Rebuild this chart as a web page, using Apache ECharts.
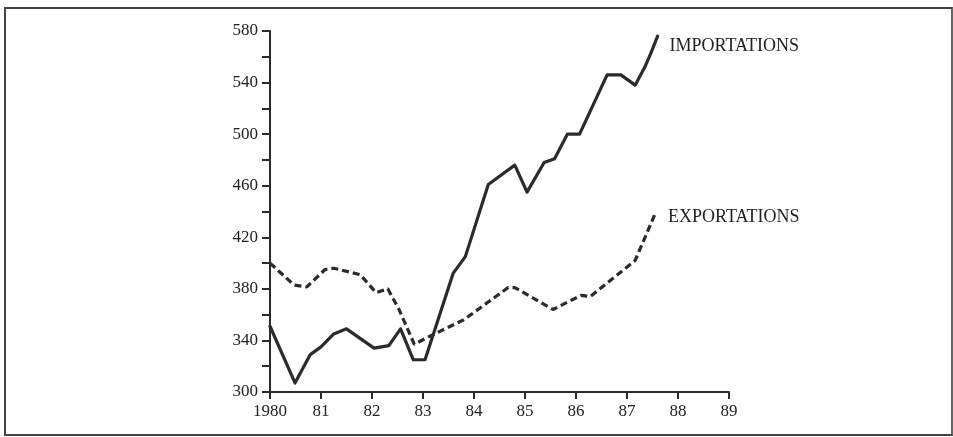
<!DOCTYPE html>
<html>
<head>
<meta charset="utf-8">
<script src="https://cdn.jsdelivr.net/npm/echarts@6/dist/echarts.min.js"></script>
<style>
  html, body { margin: 0; padding: 0; background: #fff; }
  #wrap { position: relative; width: 953px; height: 437px; }
  #chart { position: absolute; left: 0; top: 0; width: 953px; height: 437px; }
  #frame { position: absolute; left: 4px; top: 7px; width: 945px; height: 425px;
           border: 2px solid #444; border-right-color: #666; pointer-events: none; }
</style>
</head>
<body>
<div id="wrap">
  <div id="chart"></div>
  <div id="frame"></div>
</div>
<script>
// ---- data ----
const importYears  = [1980.0, 1980.49, 1980.79, 1981.0, 1981.25, 1981.5, 1982.04, 1982.33, 1982.56, 1982.81, 1983.04, 1983.59, 1983.83, 1984.28, 1984.8, 1985.04, 1985.375, 1985.58, 1985.83, 1986.07, 1986.61, 1986.88, 1987.16, 1987.35, 1987.47, 1987.6];
const importValues = [351, 307, 329, 335, 345, 349, 334, 336, 349, 325, 325, 392, 405, 461, 476, 455, 478, 481, 500, 500, 546, 546, 538, 552, 563, 576];

const exportYears  = [1980.0, 1980.47, 1980.72, 1981.08, 1981.25, 1981.77, 1982.08, 1982.31, 1982.53, 1982.83, 1983.12, 1983.8, 1984.67, 1984.8, 1985.55, 1986.1, 1986.28, 1987.16, 1987.57];
const exportValues = [400, 383, 381.5, 395, 396, 391, 377, 380, 364, 337, 343, 356, 381, 381, 364, 375, 374, 402, 440];

const seriesNames = ['IMPORTATIONS', 'EXPORTATIONS'];
const xTickValues = [1980, 1981, 1982, 1983, 1984, 1985, 1986, 1987, 1988, 1989];
const xTickLabels = ['1980', '81', '82', '83', '84', '85', '86', '87', '88', '89'];
const yMin = 300, yMax = 580, yStep = 40;

const pair = (xs, ys) => xs.map((x, i) => [x, ys[i]]);
const serif = '"Liberation Serif", "DejaVu Serif", serif';
const ink = '#2b2b2b';

const chart = echarts.init(document.getElementById('chart'), null, { renderer: 'canvas' });
chart.setOption({
  animation: false,
  backgroundColor: '#fff',
  grid: { left: 270, right: 224, top: 31, bottom: 45, containLabel: false },
  xAxis: {
    type: 'value',
    min: xTickValues[0], max: xTickValues[xTickValues.length - 1], interval: 1,
    axisLine: { show: true, onZero: false, lineStyle: { color: ink, width: 2 } },
    axisTick: { show: true, length: 7, lineStyle: { color: ink, width: 2 } },
    splitLine: { show: false },
    axisLabel: {
      color: '#222', fontFamily: serif, fontSize: 17, margin: 11,
      formatter: v => { const i = xTickValues.indexOf(Math.round(v)); return i >= 0 ? xTickLabels[i] : ''; }
    }
  },
  yAxis: {
    type: 'value', min: yMin, max: yMax, interval: yStep,
    axisLine: { show: true, lineStyle: { color: ink, width: 2 } },
    axisTick: { show: true, length: 8, lineStyle: { color: ink, width: 2 } },
    minorTick: { show: true, splitNumber: 2, length: 8, lineStyle: { color: ink, width: 2 } },
    splitLine: { show: false },
    axisLabel: { color: '#222', fontFamily: serif, fontSize: 17, margin: 12 }
  },
  series: [
    {
      name: seriesNames[0], type: 'line', data: pair(importYears, importValues),
      symbol: 'none', smooth: false,
      lineStyle: { color: ink, width: 3.2, join: 'round', cap: 'round' },
      endLabel: { show: true, formatter: seriesNames[0], color: '#222', fontFamily: serif, fontSize: 18, distance: 12, offset: [0, 10] }
    },
    {
      name: seriesNames[1], type: 'line', data: pair(exportYears, exportValues),
      symbol: 'none', smooth: false,
      lineStyle: { color: ink, width: 3.2, type: [7, 4] },
      endLabel: { show: true, formatter: seriesNames[1], color: '#222', fontFamily: serif, fontSize: 18, distance: 12, offset: [0, 6] }
    }
  ]
});
</script>
</body>
</html>
